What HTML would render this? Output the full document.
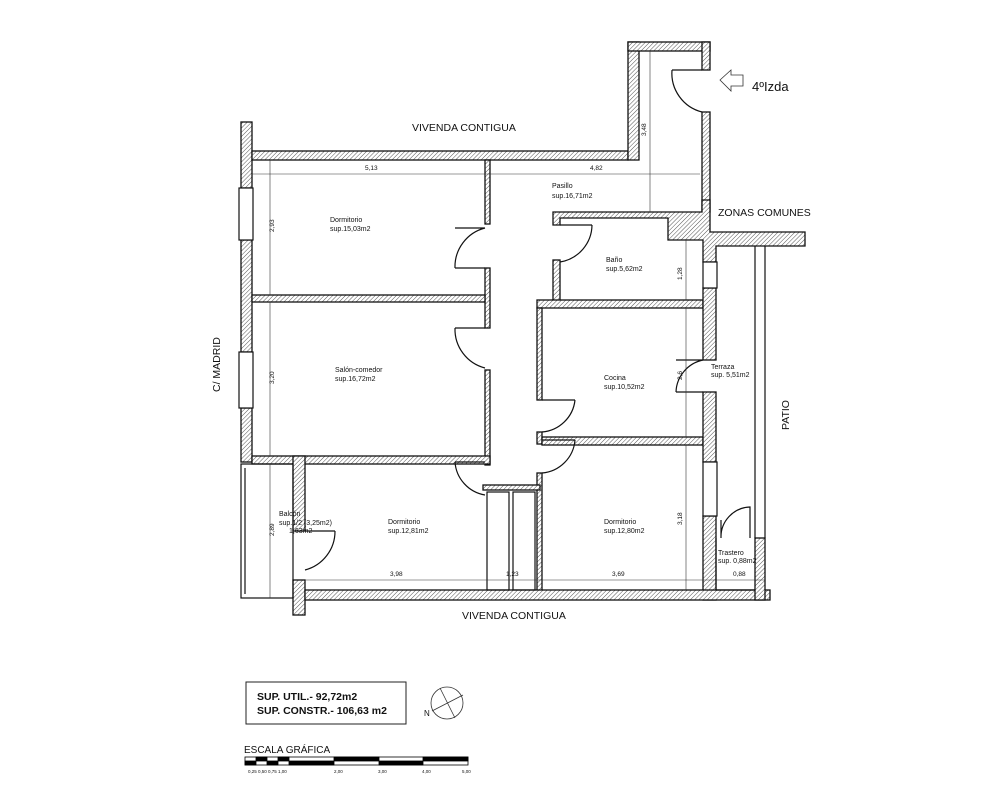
<!DOCTYPE html>
<html><head><meta charset="utf-8"><style>
html,body{margin:0;padding:0;background:#fff;}
svg{display:block;}
text{font-family:"Liberation Sans",sans-serif;fill:#111;}
</style></head><body>
<svg width="1000" height="800" viewBox="0 0 1000 800" xmlns="http://www.w3.org/2000/svg">
<defs>
<pattern id="h" width="3" height="3" patternUnits="userSpaceOnUse" patternTransform="rotate(45)">
<rect width="3" height="3" fill="#fff"/><line x1="0" y1="0" x2="0" y2="3" stroke="#555" stroke-width="1"/>
</pattern>
</defs>
<g stroke="#111" stroke-width="1.3" fill="url(#h)">
<rect x="241" y="122" width="11" height="66"/>
<rect x="241" y="240" width="11" height="112"/>
<rect x="241" y="408" width="11" height="54"/>
<rect x="252" y="151" width="376" height="9"/>
<rect x="628" y="42" width="11" height="118"/>
<rect x="628" y="42" width="82" height="9"/>
<rect x="702" y="42" width="8" height="28"/>
<rect x="702" y="112" width="8" height="100"/>
<polygon points="553,212 702,212 702,200 710,200 710,232 805,232 805,246 716,246 716,262 703,262 703,240 668,240 668,218 560,218 560,225 553,225"/>
<rect x="485" y="160" width="5" height="64"/>
<rect x="485" y="268" width="5" height="60"/>
<rect x="485" y="370" width="5" height="95"/>
<rect x="252" y="295" width="233" height="7"/>
<rect x="252" y="456" width="238" height="8"/>
<rect x="293" y="456" width="12" height="75"/>
<rect x="293" y="580" width="12" height="35"/>
<rect x="553" y="260" width="7" height="45"/>
<rect x="537" y="300" width="166" height="8"/>
<rect x="537" y="308" width="5" height="92"/>
<rect x="537" y="432" width="5" height="12"/>
<rect x="542" y="437" width="161" height="8"/>
<rect x="537" y="473" width="5" height="122"/>
<rect x="483" y="485" width="57" height="5"/>
<rect x="703" y="288" width="13" height="72"/>
<rect x="703" y="392" width="13" height="70"/>
<rect x="703" y="516" width="13" height="84"/>
<rect x="305" y="590" width="465" height="10"/>
<rect x="755" y="538" width="10" height="62"/>
</g>
<g stroke="#111" stroke-width="1.2" fill="none">
<rect x="239" y="188" width="14" height="52" fill="#fff"/>
<rect x="239" y="352" width="14" height="56" fill="#fff"/>
<rect x="703" y="262" width="14" height="26" fill="#fff"/>
<rect x="703" y="462" width="14" height="54" fill="#fff"/>
<rect x="241" y="464" width="52" height="134"/>
<line x1="245" y1="468" x2="245" y2="594"/>
<rect x="487" y="492" width="22" height="98"/>
<rect x="513" y="492" width="22" height="98"/>
<line x1="755" y1="246" x2="755" y2="538"/>
<line x1="765" y1="246" x2="765" y2="538"/>
<polyline points="716,538 716,590 755,590"/>
<path d="M672,70 L702,70 M672,70 A40,40 0 0 0 702,112"/>
<path d="M485,228 L455,228 M455,268 A40,40 0 0 1 485,228 M455,268 L485,268"/>
<path d="M485,328 L455,328 M455,328 A40,40 0 0 0 485,368"/>
<path d="M560,225 L592,225 M592,225 A38,38 0 0 1 560,262"/>
<path d="M542,400 L575,400 M575,400 A36,36 0 0 1 542,432"/>
<path d="M542,440 L575,440 M575,440 A36,36 0 0 1 542,473"/>
<path d="M485,462 L455,462 M455,462 A36,36 0 0 0 485,495"/>
<path d="M305,531 L335,531 M335,531 A40,40 0 0 1 305,570"/>
<path d="M703,360 L676,360 M676,392 A34,34 0 0 1 703,360 M676,392 L703,392"/>
<path d="M721,520 L721,538 M721,538 A30,30 0 0 1 750,507 L750,538"/>
</g>
<g stroke="#333" stroke-width="0.6" fill="none">
<line x1="252" y1="174" x2="700" y2="174"/>
<line x1="270" y1="160" x2="270" y2="295"/>
<line x1="270" y1="302" x2="270" y2="456"/>
<line x1="650" y1="51" x2="650" y2="212"/>
<line x1="686" y1="240" x2="686" y2="300"/>
<line x1="686" y1="308" x2="686" y2="437"/>
<line x1="686" y1="445" x2="686" y2="590"/>
<line x1="270" y1="464" x2="270" y2="598"/>
<line x1="305" y1="580" x2="765" y2="580"/>
</g>
<g font-size="6.5">
<text x="365" y="170">5,13</text>
<text x="590" y="170">4,82</text>
<text x="552" y="188" font-size="7">Pasillo</text>
<text x="552" y="198" font-size="7">sup.16,71m2</text>
<text x="330" y="222" font-size="7">Dormitorio</text>
<text x="330" y="231" font-size="7">sup.15,03m2</text>
<text x="335" y="372" font-size="7">Salón-comedor</text>
<text x="335" y="381" font-size="7">sup.16,72m2</text>
<text x="606" y="262" font-size="7">Baño</text>
<text x="606" y="271" font-size="7">sup.5,62m2</text>
<text x="604" y="380" font-size="7">Cocina</text>
<text x="604" y="389" font-size="7">sup.10,52m2</text>
<text x="711" y="369" font-size="7">Terraza</text>
<text x="711" y="377" font-size="7">sup. 5,51m2</text>
<text x="388" y="524" font-size="7">Dormitorio</text>
<text x="388" y="533" font-size="7">sup.12,81m2</text>
<text x="604" y="524" font-size="7">Dormitorio</text>
<text x="604" y="533" font-size="7">sup.12,80m2</text>
<text x="279" y="516" font-size="7">Balcón</text>
<text x="279" y="525" font-size="7">sup.1/2 (3,25m2)</text>
<text x="289" y="533" font-size="7">1,63m2</text>
<text x="718" y="555" font-size="7">Trastero</text>
<text x="718" y="563" font-size="7">sup. 0,88m2</text>
<text x="390" y="576">3,98</text>
<text x="506" y="576">1,23</text>
<text x="612" y="576">3,69</text>
<text x="733" y="576">0,88</text>
<text transform="translate(274,232) rotate(-90)">2,93</text>
<text transform="translate(274,384) rotate(-90)">3,20</text>
<text transform="translate(274,536) rotate(-90)">2,89</text>
<text transform="translate(646,136) rotate(-90)">3,48</text>
<text transform="translate(682,280) rotate(-90)">1,28</text>
<text transform="translate(682,380) rotate(-90)">2,6</text>
<text transform="translate(682,525) rotate(-90)">3,18</text>
</g>
<g font-size="10.5">
<text x="412" y="131">VIVENDA CONTIGUA</text>
<text x="462" y="619">VIVENDA CONTIGUA</text>
<text x="718" y="216">ZONAS COMUNES</text>
<text transform="translate(220,392) rotate(-90)">C/ MADRID</text>
<text transform="translate(789,430) rotate(-90)">PATIO</text>
<text x="752" y="91" font-size="13">4ºIzda</text>
</g>
<polygon points="720,80 731,70 731,75 743,75 743,86 731,86 731,91" fill="none" stroke="#333" stroke-width="0.8"/>
<rect x="246" y="682" width="160" height="42" fill="none" stroke="#222" stroke-width="1"/>
<text x="257" y="700" font-size="10.5" font-weight="bold">SUP. UTIL.- 92,72m2</text>
<text x="257" y="714" font-size="10.5" font-weight="bold">SUP. CONSTR.- 106,63 m2</text>
<circle cx="447" cy="703" r="16" fill="none" stroke="#333" stroke-width="0.8"/>
<line x1="432" y1="711" x2="463" y2="695" stroke="#333" stroke-width="0.8"/>
<line x1="440" y1="688" x2="455" y2="718" stroke="#333" stroke-width="0.8"/>
<text x="424" y="716" font-size="8">N</text>
<text x="244" y="753" font-size="10">ESCALA GRÁFICA</text>
<g stroke="#000" stroke-width="0.8">
<rect x="245" y="757" width="223" height="8" fill="#fff"/>
<rect x="245" y="761" width="11" height="4" fill="#000"/>
<rect x="256" y="757" width="11" height="4" fill="#000"/>
<rect x="267" y="761" width="11" height="4" fill="#000"/>
<rect x="278" y="757" width="11" height="4" fill="#000"/>
<rect x="289" y="761" width="45" height="4" fill="#000"/>
<rect x="334" y="757" width="45" height="4" fill="#000"/>
<rect x="379" y="761" width="44" height="4" fill="#000"/>
<rect x="423" y="757" width="45" height="4" fill="#000"/>
</g>
<g font-size="4.5">
<text x="248" y="773">0,25 0,50 0,75 1,00</text>
<text x="334" y="773">2,00</text>
<text x="378" y="773">3,00</text>
<text x="422" y="773">4,00</text>
<text x="462" y="773">5,00</text>
</g>
</svg>
</body></html>
